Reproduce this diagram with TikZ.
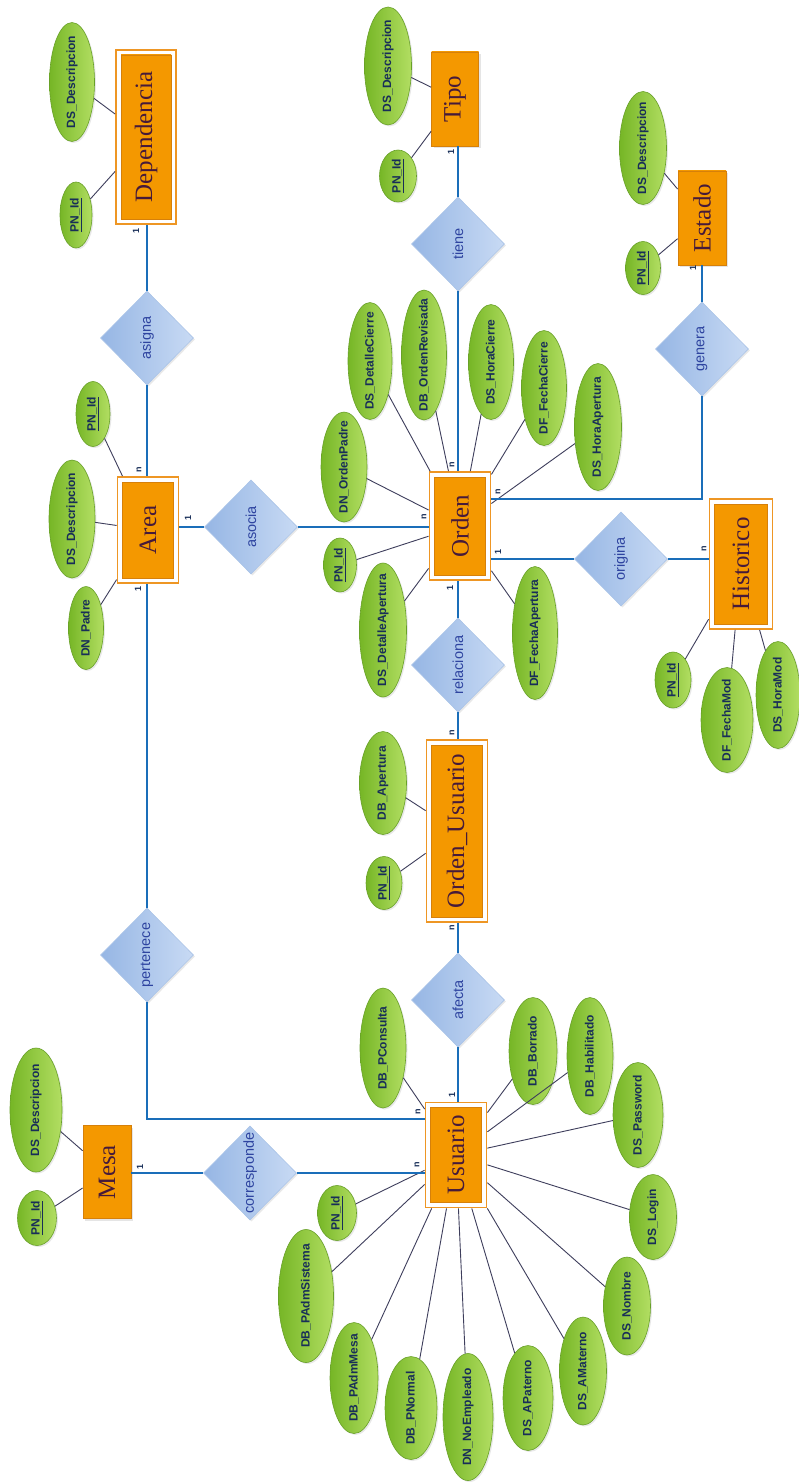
\documentclass[tikz,border=0pt]{standalone}
\usepackage{fontspec}
\usetikzlibrary{shapes.geometric,shadows}
\newfontfamily\entfont{Liberation Serif}
\newfontfamily\erfont{Liberation Sans}

\definecolor{grnD}{RGB}{118,182,38}
\definecolor{grnL}{RGB}{178,222,98}
\definecolor{grnB}{RGB}{104,160,40}
\definecolor{bluD}{RGB}{150,182,228}
\definecolor{bluL}{RGB}{200,218,244}
\definecolor{bluB}{RGB}{170,196,232}
\definecolor{orA}{RGB}{244,152,0}
\definecolor{orB}{RGB}{255,192,64}
\definecolor{orD}{RGB}{214,128,10}
\definecolor{orF}{RGB}{238,150,36}
\definecolor{linkB}{RGB}{26,110,185}
\definecolor{attL}{RGB}{62,62,92}
\definecolor{attTxt}{RGB}{24,46,88}
\definecolor{relTxt}{RGB}{46,68,160}
\definecolor{entTxt}{RGB}{70,26,58}

\tikzset{
  attrib/.style={ellipse, draw=grnB, line width=0.6pt, left color=grnD, right color=grnL,
    inner sep=0pt, drop shadow={opacity=0.18, shadow xshift=1.5pt, shadow yshift=-1.5pt}},
  attrtxt/.style={rotate=90, inner sep=0pt, text=attTxt, font=\erfont\bfseries\fontsize{12}{13}\selectfont},
  rel/.style={diamond, aspect=1, draw=bluB, line width=0.6pt, left color=bluD, right color=bluL,
    inner sep=0pt, minimum width=93pt, minimum height=94pt,
    drop shadow={opacity=0.18, shadow xshift=1.5pt, shadow yshift=-1.5pt}},
  reltxt/.style={rotate=90, inner sep=0pt, text=relTxt, font=\erfont\fontsize{14.5}{15}\selectfont},
  strongent/.style={rectangle, draw=orD, line width=0.8pt, left color=orA, middle color=orB, right color=orA,
    inner sep=0pt, drop shadow={opacity=0.2, shadow xshift=2pt, shadow yshift=-2pt}},
  weakent/.style={rectangle, draw=orF, line width=1.8pt, fill=white, inner sep=0pt,
    path picture={\shadedraw[left color=orA, middle color=orB, right color=orA, draw=orD, line width=0.6pt]
      ([shift={(5pt,5pt)}]path picture bounding box.south west) rectangle
      ([shift={(-5pt,-5pt)}]path picture bounding box.north east);}},
  enttxt/.style={rotate=90, inner sep=0pt, text=entTxt, font=\entfont\fontsize{25}{25}\selectfont},
  link/.style={draw=linkB, line width=2.4pt},
  attline/.style={draw=attL, line width=0.9pt},
  card/.style={rotate=90, inner sep=0pt, text=attTxt, font=\erfont\bfseries\fontsize{9}{9}\selectfont},
}

% attribute ellipse: name, x, y, width, height, text
\newcommand{\erattr}[6]{\node[attrib, minimum width=#4pt, minimum height=#5pt,
  label={[attrtxt]center:#6}] (#1) at (#2,#3) {};}
% relationship diamond: name, x, y, text
\newcommand{\errel}[4]{\node[rel, label={[reltxt]center:#4}] (#1) at (#2,#3) {};}

\begin{document}
\begin{tikzpicture}[x=1pt,y=-1pt]
\fill[white] (0,0) rectangle (799,1482);
\useasboundingbox (0,0) rectangle (799,1482);

% ---------------- entities ----------------
\node[weakent, minimum width=60pt, minimum height=174pt, label={[enttxt]center:Dependencia}] (dep) at (146,137) {};
\node[strongent, minimum width=47pt, minimum height=94pt, label={[enttxt]center:Tipo}] (tipo) at (455,99) {};
\node[strongent, minimum width=48pt, minimum height=94pt, label={[enttxt]center:Estado}] (estado) at (702,218) {};
\node[weakent, minimum width=61pt, minimum height=106pt, label={[enttxt]center:Area}] (area) at (148,530) {};
\node[weakent, minimum width=61pt, minimum height=108pt, label={[enttxt]center:Orden}] (orden) at (460,526) {};
\node[weakent, minimum width=63pt, minimum height=130pt, label={[enttxt]center:Historico}] (hist) at (741,564) {};
\node[weakent, minimum width=61pt, minimum height=182pt, label={[enttxt]center:Orden\_Usuario}] (ordus) at (457,831) {};
\node[strongent, minimum width=48pt, minimum height=93pt, label={[enttxt]center:Mesa}] (mesa) at (107,1172) {};
\node[weakent, minimum width=61pt, minimum height=105pt, label={[enttxt]center:Usuario}] (usu) at (456,1155) {};

% ---------------- relationships ----------------
\errel{asigna}{147}{338}{asigna}
\errel{tiene}{458}{244}{tiene}
\errel{genera}{702}{349}{genera}
\errel{asocia}{251}{527}{asocia}
\errel{origina}{621}{559}{origina}
\errel{relaciona}{458}{665}{relaciona}
\errel{pertenece}{147}{955}{pertenece}
\errel{afecta}{458}{1000}{afecta}
\errel{corresponde}{250}{1173}{corresponde}

% ---------------- attributes ----------------
\erattr{depA}{72}{82}{45}{119}{DS\_Descripcion}
\erattr{depB}{76}{215}{32}{66}{\underline{PN\_Id}}

\erattr{tipoA}{388}{66}{47}{118}{DS\_Descripcion}
\erattr{tipoB}{398}{176}{37}{52}{\underline{PN\_Id}}

\erattr{estA}{643}{148}{47}{113}{DS\_Descripcion}
\erattr{estB}{643}{268}{35}{53}{\underline{PN\_Id}}

\erattr{areaA}{93}{414}{34}{65}{\underline{PN\_Id}}
\erattr{areaB}{72}{519}{46}{118}{DS\_Descripcion}
\erattr{areaC}{86}{628}{35}{83}{DN\_Padre}

\erattr{ordA}{344}{467}{46}{110}{DN\_OrdenPadre}
\erattr{ordB}{370}{361}{44}{117}{DS\_DetalleCierre}
\erattr{ordC}{424}{355}{45}{130}{DB\_OrdenRevisada}
\erattr{ordD}{491}{362}{45}{115}{DS\_HoraCierre}
\erattr{ordE}{544}{388}{45}{115}{DF\_FechaCierre}
\erattr{ordF}{598}{427}{47}{127}{DS\_HoraApertura}
\erattr{ordG}{340}{565}{33}{54}{\underline{PN\_Id}}
\erattr{ordH}{383}{630}{47}{134}{DS\_DetalleApertura}
\erattr{ordI}{535}{633}{45}{133}{DF\_FechaApertura}

\erattr{histA}{673}{680}{36}{56}{\underline{PN\_Id}}
\erattr{histB}{727}{720}{52}{105}{DF\_FechaMod}
\erattr{histC}{778}{695}{44}{107}{DS\_HoraMod}

\erattr{ouA}{383}{783}{47}{103}{DB\_Apertura}
\erattr{ouB}{384}{883}{36}{53}{\underline{PN\_Id}}

\erattr{mesaA}{36}{1110}{52}{124}{DS\_Descripcion}
\erattr{mesaB}{37}{1218}{39}{55}{\underline{PN\_Id}}

\erattr{usA}{383}{1048}{46}{120}{DB\_PConsulta}
\erattr{usB}{533}{1051}{48}{107}{DB\_Borrado}
\erattr{usC}{590}{1056}{46}{117}{DB\_Habilitado}
\erattr{usD}{638}{1115}{50}{105}{DS\_Password}
\erattr{usE}{653}{1217}{47}{85}{DS\_Login}
\erattr{usF}{627}{1306}{47}{98}{DS\_Nombre}
\erattr{usG}{583}{1371}{47}{108}{DS\_AMaterno}
\erattr{usH}{528}{1398}{50}{105}{DS\_APaterno}
\erattr{usI}{468}{1417}{50}{127}{DN\_NoEmpleado}
\erattr{usJ}{411}{1408}{52}{103}{DB\_PNormal}
\erattr{usK}{354}{1378}{48}{111}{DB\_PAdmMesa}
\erattr{usL}{306}{1296}{55}{133}{DB\_PAdmSistema}
\erattr{usM}{337}{1213}{39}{55}{\underline{PN\_Id}}

% ---------------- attribute lines ----------------
\foreach \a in {depA,depB} \draw[attline] (\a) -- (dep);
\foreach \a in {tipoA,tipoB} \draw[attline] (\a) -- (tipo);
\foreach \a in {estA,estB} \draw[attline] (\a) -- (estado);
\foreach \a in {areaA,areaB,areaC} \draw[attline] (\a) -- (area);
\foreach \a in {ordA,ordB,ordC,ordD,ordE,ordF,ordG,ordH,ordI} \draw[attline] (\a) -- (orden);
\foreach \a in {histA,histB,histC} \draw[attline] (\a) -- (hist);
\foreach \a in {ouA,ouB} \draw[attline] (\a) -- (ordus);
\foreach \a in {mesaA,mesaB} \draw[attline] (\a) -- (mesa);
\foreach \a in {usA,usB,usC,usD,usE,usF,usG,usH,usI,usJ,usK,usL,usM} \draw[attline] (\a) -- (usu);

% ---------------- relationship links ----------------
\draw[link] (asigna.north) -- (asigna.north |- dep.south);
\draw[link] (asigna.south) -- (asigna.south |- area.north);
\draw[link] (asocia.west) -- (asocia.west -| area.east);
\draw[link] (asocia.east) -- (asocia.east -| orden.west);
\draw[link] (pertenece.north) -- (pertenece.north |- area.south);
\draw[link] (pertenece.south) |- ([yshift=36pt]usu.west);
\draw[link] (corresponde.west) -- (corresponde.west -| mesa.east);
\draw[link] (corresponde.east) -- (corresponde.east -| usu.west);
\draw[link] (tiene.north) -- (tiene.north |- tipo.south);
\draw[link] (tiene.south) -- (tiene.south |- orden.north);
\draw[link] (relaciona.north) -- (relaciona.north |- orden.south);
\draw[link] (relaciona.south) -- (relaciona.south |- ordus.north);
\draw[link] (afecta.north) -- (afecta.north |- ordus.south);
\draw[link] (afecta.south) -- (afecta.south |- usu.north);
\draw[link] ([yshift=27pt]orden.east) -| (genera.south);
\draw[link] (genera.north) -- (genera.north |- estado.south);
\draw[link] (origina.west) -- (origina.west -| orden.east);
\draw[link] (origina.east) -- (origina.east -| hist.west);

% ---------------- cardinalities ----------------
\node[card] (k1) at (136,231) {1};
\node[card] (k2) at (139,470) {n};
\node[card] (k3) at (188,518) {1};
\node[card] (k4) at (138,589) {1};
\node[card] (k5) at (424,517) {n};
\node[card] (k6) at (452,465) {n};
\node[card] (k7) at (498,492) {n};
\node[card] (k8) at (498,552) {1};
\node[card] (k9) at (450,588) {1};
\node[card] (k10) at (704,549) {n};
\node[card] (k11) at (693,268) {1};
\node[card] (k12) at (451,152) {1};
\node[card] (k13) at (452,733) {n};
\node[card] (k14) at (452,928) {n};
\node[card] (k15) at (452,1095) {1};
\node[card] (k16) at (418,1112) {n};
\node[card] (k17) at (417,1165) {n};
\node[card] (k18) at (140,1167) {1};
\end{tikzpicture}
\end{document}
